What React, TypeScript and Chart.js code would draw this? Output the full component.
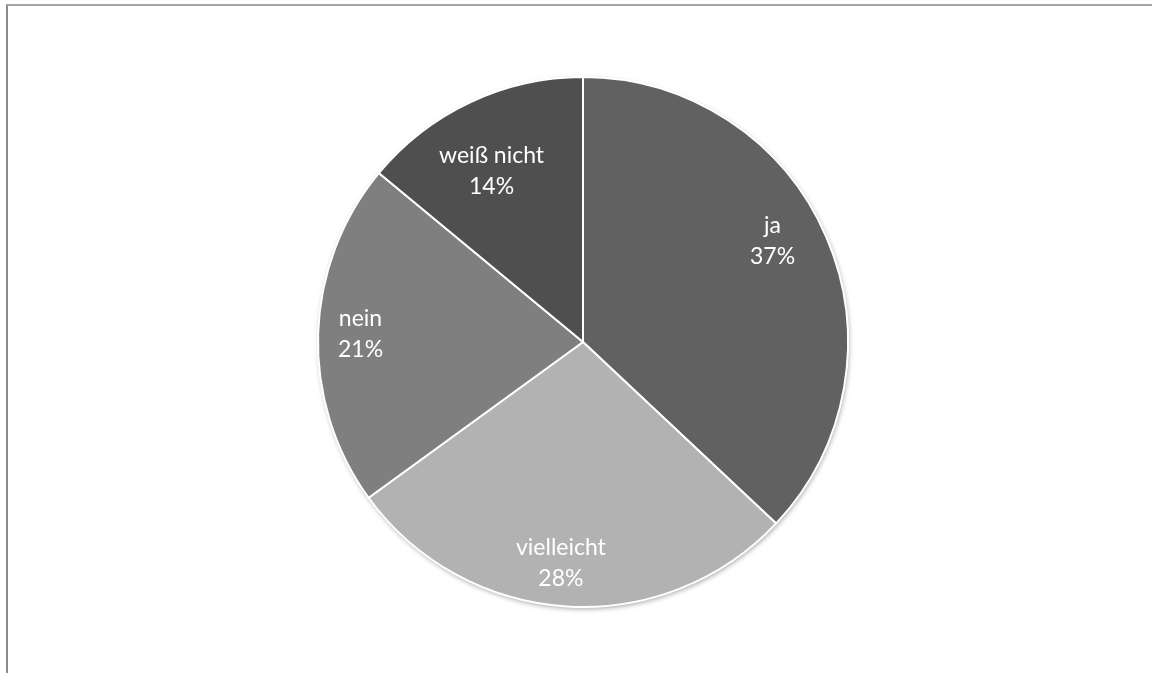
import React, { useEffect, useRef } from "react";
import { Chart, registerables } from "chart.js";

Chart.register(...registerables);

const categories = ["ja", "vielleicht", "nein", "weiß nicht"];
const percentages = [37, 28, 21, 14];
const sliceColors = ["#616161", "#b2b2b2", "#7f7f7f", "#4f4f4f"];
// label placement tweaks (fraction of radius, angle shift in degrees)
const labelRadius = [0.81, 0.84, 0.84, 0.73];
const labelAngleShift = [-4.6, 2.1, 0.2, -3];

const pieShadow = {
  id: "pieShadow",
  beforeDatasetsDraw(chart: any) {
    const meta = chart.getDatasetMeta(0);
    const arc = meta.data[0];
    if (!arc) return;
    const { x, y, outerRadius } = arc.getProps(["x", "y", "outerRadius"], true);
    const ctx = chart.ctx;
    ctx.save();
    ctx.beginPath();
    ctx.arc(x, y, outerRadius, 0, Math.PI * 2);
    ctx.fillStyle = "#ffffff";
    ctx.shadowColor = "rgba(0,0,0,0.35)";
    ctx.shadowBlur = 5;
    ctx.shadowOffsetX = 1;
    ctx.shadowOffsetY = 2;
    ctx.fill();
    ctx.restore();
  },
};

const sliceLabels = {
  id: "sliceLabels",
  afterDatasetsDraw(chart: any) {
    const meta = chart.getDatasetMeta(0);
    const ctx = chart.ctx;
    ctx.save();
    ctx.fillStyle = "#ffffff";
    ctx.font = "23px Lato";
    ctx.textAlign = "center";
    ctx.textBaseline = "middle";
    meta.data.forEach((arc: any, i: number) => {
      const { x, y, startAngle, endAngle, outerRadius } = arc.getProps(
        ["x", "y", "startAngle", "endAngle", "outerRadius"],
        true
      );
      const mid = (startAngle + endAngle) / 2 + (labelAngleShift[i] * Math.PI) / 180;
      const r = outerRadius * labelRadius[i];
      const lx = x + Math.cos(mid) * r;
      const ly = y + Math.sin(mid) * r;
      ctx.fillText(categories[i], lx, ly - 15.5);
      ctx.fillText(percentages[i] + "%", lx, ly + 15.5);
    });
    ctx.restore();
  },
};

export default function App() {
  const ref = useRef<HTMLCanvasElement>(null);
  useEffect(() => {
    if (!ref.current) return;
    const chart = new Chart(ref.current, {
      type: "pie",
      data: {
        labels: categories,
        datasets: [
          {
            data: percentages,
            backgroundColor: sliceColors,
            borderColor: "#ffffff",
            borderWidth: 2,
          },
        ],
      },
      options: {
        responsive: false,
        animation: false,
        radius: 265,
        layout: { padding: { top: 77, bottom: 66, left: 318, right: 304 } },
        plugins: {
          legend: { display: false },
          tooltip: { enabled: false },
          title: { display: false },
        },
      } as any,
      plugins: [pieShadow, sliceLabels],
    });
    return () => chart.destroy();
  }, []);
  return (
    <div style={{ position: "fixed", left: 0, top: 0, width: 1152, height: 673, background: "#fff", overflow: "hidden" }}>
      <canvas ref={ref} width={1152} height={673} style={{ position: "absolute", left: 0, top: 0 }} />
      <div
        style={{
          position: "absolute",
          left: 6,
          top: 4,
          width: 1200,
          height: 720,
          borderTop: "2px solid #a6a6a6",
          borderLeft: "2px solid #8c8c8c",
          boxSizing: "border-box",
        }}
      />
    </div>
  );
}
